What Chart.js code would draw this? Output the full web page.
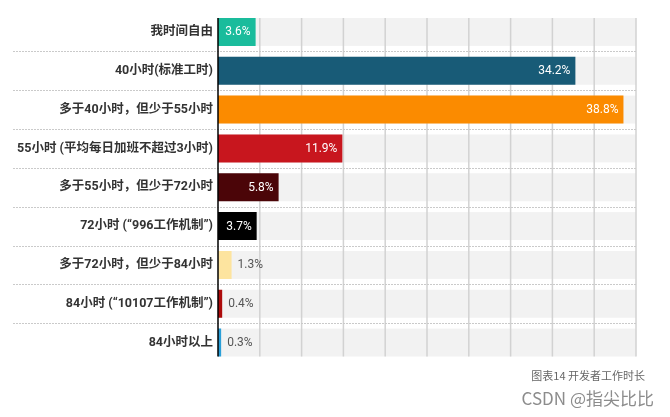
<!DOCTYPE html>
<html>
<head>
<meta charset="utf-8">
<script src="https://cdn.jsdelivr.net/npm/chart.js@4.4.1/dist/chart.umd.min.js"></script>
<style>
  html, body { margin: 0; padding: 0; background: #fff; }
  #wrap { position: relative; width: 670px; height: 417px; }
  #caption {
    position: absolute; right: 25px; top: 367px;
    font: 11px "Noto Sans CJK SC", sans-serif; color: #666;
  }
  #mark {
    position: absolute; right: 16px; top: 385px;
    font: 17px "Noto Sans CJK SC", sans-serif; color: #8c8c8c;
  }
</style>
</head>
<body>
<div id="wrap">
  <canvas id="chart"></canvas>
  <div id="caption">图表14 开发者工作时长</div>
  <div id="mark">CSDN @指尖比比</div>
</div>
<script>
// categories (top to bottom)
const categories = [
    "我时间自由",
    "40小时(标准工时)",
    "多于40小时，但少于55小时",
    "55小时 (平均每日加班不超过3小时)",
    "多于55小时，但少于72小时",
    "72小时 (“996工作机制”)",
    "多于72小时，但少于84小时",
    "84小时 (“10107工作机制”)",
    "84小时以上",
];
// share of developers, percent
const shares = [3.6, 34.2, 38.8, 11.9, 5.8, 3.7, 1.3, 0.4, 0.3];
// value axis
const axisMax = 40;
const axisStep = 4;

const barColors = [
    "#1abc9c", "#185b77", "#fb8b00", "#c8161e", "#4b0508",
    "#000000", "#fde49f", "#ad0b0b", "#2a9fd8",
];

// grey tracks, grid and axis line drawn around the bars
const backdrop = {
    id: "backdrop",
    beforeDatasetsDraw(chart) {
        const { ctx, scales: { x, y } } = chart;
        const bars = chart.getDatasetMeta(0).data;
        const left = x.getPixelForValue(0);
        const right = x.getPixelForValue(axisMax);
        const top = bars[0].y - bars[0].height / 2;
        const last = bars[bars.length - 1];
        const bottom = last.y + last.height / 2;

        ctx.save();
        ctx.fillStyle = "#f2f2f2";
        bars.forEach((b) => {
            ctx.fillRect(left, b.y - b.height / 2, right - left, b.height);
        });

        // vertical grid
        ctx.strokeStyle = "#d2d2d2";
        ctx.lineWidth = 1.5;
        x.ticks.forEach((t) => {
            if (t.value === 0) return;
            const px = x.getPixelForValue(t.value);
            ctx.beginPath();
            ctx.moveTo(px, top);
            ctx.lineTo(px, bottom);
            ctx.stroke();
        });

        // dotted separators between categories
        ctx.strokeStyle = "#cacaca";
        ctx.lineWidth = 1;
        ctx.setLineDash([2, 1]);
        for (let i = 0; i < categories.length - 1; i++) {
            const py = Math.round((y.getPixelForValue(i) + y.getPixelForValue(i + 1)) / 2) + 0.5;
            ctx.beginPath();
            ctx.moveTo(13, py);
            ctx.lineTo(right, py);
            ctx.stroke();
        }
        ctx.restore();
    },
    afterDatasetsDraw(chart) {
        const { ctx, scales: { x } } = chart;
        const bars = chart.getDatasetMeta(0).data;
        const left = x.getPixelForValue(0);
        const top = bars[0].y - bars[0].height / 2;
        const last = bars[bars.length - 1];
        const bottom = last.y + last.height / 2;

        ctx.save();
        ctx.strokeStyle = "#000";
        ctx.lineWidth = 1.5;
        ctx.beginPath();
        ctx.moveTo(left, top);
        ctx.lineTo(left, bottom);
        ctx.stroke();

        // value labels
        ctx.font = "12px Roboto, sans-serif";
        ctx.textBaseline = "middle";
        bars.forEach((b, i) => {
            const text = shares[i].toFixed(1) + "%";
            const w = ctx.measureText(text).width;
            if (w + 10 < b.x - left) {
                ctx.fillStyle = "#ffffff";
                ctx.textAlign = "right";
                ctx.fillText(text, b.x - 5, b.y + 0.5);
            } else {
                ctx.fillStyle = "#555555";
                ctx.textAlign = "left";
                ctx.fillText(text, b.x + 6, b.y + 0.5);
            }
        });
        ctx.restore();
    },
};

new Chart(document.getElementById("chart"), {
    type: "bar",
    data: {
        labels: categories,
        datasets: [{
            data: shares,
            backgroundColor: barColors,
            borderWidth: 0,
            barPercentage: 0.72,
            categoryPercentage: 1,
        }],
    },
    options: {
        indexAxis: "y",
        responsive: true,
        maintainAspectRatio: false,
        animation: false,
        layout: { padding: { top: 6, right: 34, bottom: 55, left: 0 } },
        plugins: {
            legend: { display: false },
            tooltip: { enabled: false },
        },
        scales: {
            x: {
                display: false,
                min: 0,
                max: axisMax,
                ticks: { stepSize: axisStep },
            },
            y: {
                grid: { display: false, drawTicks: false },
                border: { display: false },
                ticks: {
                    padding: 5,
                    color: "#333",
                    font: { family: "Roboto, 'Noto Sans CJK SC', sans-serif", size: 12.5, weight: "bold" },
                },
                afterFit: (scale) => { scale.width = 218; },
            },
        },
    },
    plugins: [backdrop],
});
</script>
</body>
</html>
